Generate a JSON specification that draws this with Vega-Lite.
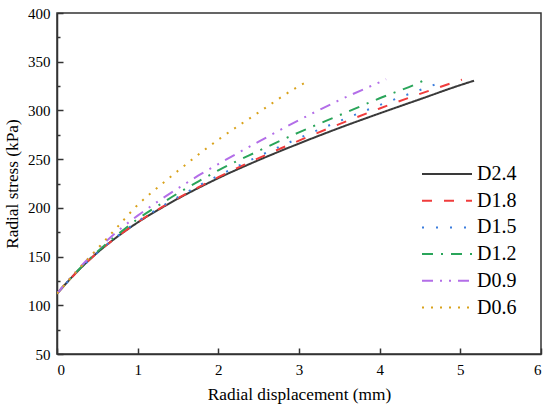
{
  "$schema": "https://vega.github.io/schema/vega-lite/v6.json",
  "autosize": {"type": "none"},
  "padding": {"left": 57, "top": 13, "right": 9, "bottom": 56},
  "width": 484,
  "height": 341,
  "background": "white",
  "config": {
    "view": {"stroke": "#333333", "strokeWidth": 1.5},
    "axis": {
      "grid": false,
      "domainColor": "#333333",
      "domainWidth": 1.5,
      "tickColor": "#333333",
      "tickWidth": 1.5
    }
  },
  "data": {
    "values": [
      {"series": "D2.4", "x": 0, "y": 112},
      {"series": "D2.4", "x": 0.25, "y": 134.5},
      {"series": "D2.4", "x": 0.5, "y": 154},
      {"series": "D2.4", "x": 0.75, "y": 170.5},
      {"series": "D2.4", "x": 1, "y": 185},
      {"series": "D2.4", "x": 1.25, "y": 197.8},
      {"series": "D2.4", "x": 1.5, "y": 209.5},
      {"series": "D2.4", "x": 1.75, "y": 220.3},
      {"series": "D2.4", "x": 2, "y": 230.5},
      {"series": "D2.4", "x": 2.5, "y": 249},
      {"series": "D2.4", "x": 3, "y": 266},
      {"series": "D2.4", "x": 3.5, "y": 282},
      {"series": "D2.4", "x": 4, "y": 297},
      {"series": "D2.4", "x": 4.5, "y": 311.5},
      {"series": "D2.4", "x": 5, "y": 326},
      {"series": "D2.4", "x": 5.17, "y": 330.5},
      {"series": "D1.8", "x": 0, "y": 112},
      {"series": "D1.8", "x": 0.25, "y": 134.5},
      {"series": "D1.8", "x": 0.5, "y": 154},
      {"series": "D1.8", "x": 0.75, "y": 170.5},
      {"series": "D1.8", "x": 1, "y": 185.3},
      {"series": "D1.8", "x": 1.25, "y": 198.2},
      {"series": "D1.8", "x": 1.5, "y": 210},
      {"series": "D1.8", "x": 1.75, "y": 221},
      {"series": "D1.8", "x": 2, "y": 231.5},
      {"series": "D1.8", "x": 2.5, "y": 251},
      {"series": "D1.8", "x": 3, "y": 269},
      {"series": "D1.8", "x": 3.5, "y": 286},
      {"series": "D1.8", "x": 4, "y": 302},
      {"series": "D1.8", "x": 4.5, "y": 317},
      {"series": "D1.8", "x": 5.02, "y": 331.6},
      {"series": "D1.5", "x": 0, "y": 112},
      {"series": "D1.5", "x": 0.25, "y": 134.5},
      {"series": "D1.5", "x": 0.5, "y": 154},
      {"series": "D1.5", "x": 0.75, "y": 171},
      {"series": "D1.5", "x": 1, "y": 186},
      {"series": "D1.5", "x": 1.25, "y": 199},
      {"series": "D1.5", "x": 1.5, "y": 211},
      {"series": "D1.5", "x": 1.75, "y": 222.5},
      {"series": "D1.5", "x": 2, "y": 233},
      {"series": "D1.5", "x": 2.5, "y": 253},
      {"series": "D1.5", "x": 3, "y": 271.5},
      {"series": "D1.5", "x": 3.5, "y": 289},
      {"series": "D1.5", "x": 4, "y": 305.5},
      {"series": "D1.5", "x": 4.5, "y": 321},
      {"series": "D1.5", "x": 4.8, "y": 330},
      {"series": "D1.2", "x": 0, "y": 112},
      {"series": "D1.2", "x": 0.25, "y": 135},
      {"series": "D1.2", "x": 0.5, "y": 155},
      {"series": "D1.2", "x": 0.75, "y": 172.5},
      {"series": "D1.2", "x": 1, "y": 188.5},
      {"series": "D1.2", "x": 1.25, "y": 202},
      {"series": "D1.2", "x": 1.5, "y": 215},
      {"series": "D1.2", "x": 1.75, "y": 227},
      {"series": "D1.2", "x": 2, "y": 238.5},
      {"series": "D1.2", "x": 2.5, "y": 258.5},
      {"series": "D1.2", "x": 3, "y": 277.5},
      {"series": "D1.2", "x": 3.5, "y": 295},
      {"series": "D1.2", "x": 4, "y": 312.5},
      {"series": "D1.2", "x": 4.5, "y": 329},
      {"series": "D1.2", "x": 4.55, "y": 331},
      {"series": "D0.9", "x": 0, "y": 112},
      {"series": "D0.9", "x": 0.25, "y": 136},
      {"series": "D0.9", "x": 0.5, "y": 157},
      {"series": "D0.9", "x": 0.75, "y": 176},
      {"series": "D0.9", "x": 1, "y": 192},
      {"series": "D0.9", "x": 1.25, "y": 206.5},
      {"series": "D0.9", "x": 1.5, "y": 220},
      {"series": "D0.9", "x": 1.75, "y": 233},
      {"series": "D0.9", "x": 2, "y": 245},
      {"series": "D0.9", "x": 2.5, "y": 268},
      {"series": "D0.9", "x": 3, "y": 290},
      {"series": "D0.9", "x": 3.5, "y": 310.5},
      {"series": "D0.9", "x": 4, "y": 329},
      {"series": "D0.9", "x": 4.08, "y": 332},
      {"series": "D0.6", "x": 0, "y": 112},
      {"series": "D0.6", "x": 0.25, "y": 135.5},
      {"series": "D0.6", "x": 0.5, "y": 158},
      {"series": "D0.6", "x": 0.75, "y": 180.5},
      {"series": "D0.6", "x": 1, "y": 203},
      {"series": "D0.6", "x": 1.25, "y": 221},
      {"series": "D0.6", "x": 1.5, "y": 238},
      {"series": "D0.6", "x": 1.75, "y": 254.5},
      {"series": "D0.6", "x": 2, "y": 270},
      {"series": "D0.6", "x": 2.5, "y": 298},
      {"series": "D0.6", "x": 3, "y": 325},
      {"series": "D0.6", "x": 3.1, "y": 329.5}
    ]
  },
  "mark": {"type": "line", "strokeWidth": 2, "interpolate": "monotone", "clip": true},
  "encoding": {
    "x": {
      "field": "x",
      "type": "quantitative",
      "scale": {"domain": [0, 6], "nice": false},
      "axis": {
        "title": "Radial displacement (mm)",
        "values": [0, 0.5, 1, 1.5, 2, 2.5, 3, 3.5, 4, 4.5, 5, 5.5, 6],
        "format": "d",
        "labelExpr": "datum.value % 1 === 0 ? datum.label : ''",
        "tickSize": {"condition": {"test": "datum.value % 1 !== 0", "value": -3}, "value": -6},
        "labelFont": "Liberation Serif",
        "labelFontSize": 15,
        "labelColor": "#000000",
        "labelPadding": 14,
        "titleFont": "Liberation Serif",
        "titleFontSize": 17.3,
        "titleFontWeight": "normal",
        "titleColor": "#000000",
        "titlePadding": 8
      }
    },
    "y": {
      "field": "y",
      "type": "quantitative",
      "scale": {"domain": [50, 400], "nice": false, "zero": false},
      "axis": {
        "title": "Radial stress (kPa)",
        "values": [50, 75, 100, 125, 150, 175, 200, 225, 250, 275, 300, 325, 350, 375, 400],
        "format": "d",
        "labelExpr": "datum.value % 50 === 0 ? datum.label : ''",
        "tickSize": {"condition": {"test": "datum.value % 50 !== 0", "value": -3}, "value": -6},
        "labelFont": "Liberation Serif",
        "labelFontSize": 15,
        "labelColor": "#000000",
        "labelPadding": 13,
        "titleFont": "Liberation Serif",
        "titleFontSize": 17.3,
        "titleFontWeight": "normal",
        "titleColor": "#000000",
        "titlePadding": 6
      }
    },
    "color": {
      "field": "series",
      "type": "nominal",
      "scale": {
        "domain": ["D2.4", "D1.8", "D1.5", "D1.2", "D0.9", "D0.6"],
        "range": ["#3a3a3a", "#f03c3c", "#3b7ddd", "#2aa55a", "#b36ee8", "#d9a21b"]
      },
      "legend": {
        "title": null,
        "orient": "none",
        "legendX": 364,
        "legendY": 150,
        "symbolType": "stroke",
        "symbolSize": 2500,
        "symbolStrokeWidth": 2,
        "clipHeight": 22,
        "labelFont": "Liberation Serif",
        "labelFontSize": 20,
        "labelColor": "#000000",
        "labelOffset": 4,
        "rowPadding": 4.7
      }
    },
    "strokeDash": {
      "field": "series",
      "type": "nominal",
      "scale": {
        "domain": ["D2.4", "D1.8", "D1.5", "D1.2", "D0.9", "D0.6"],
        "range": [[1, 0], [10, 12], [2, 12], [11, 8, 2, 8], [11, 7, 2, 7, 2, 7], [2, 7]]
      },
      "legend": null
    }
  }
}
